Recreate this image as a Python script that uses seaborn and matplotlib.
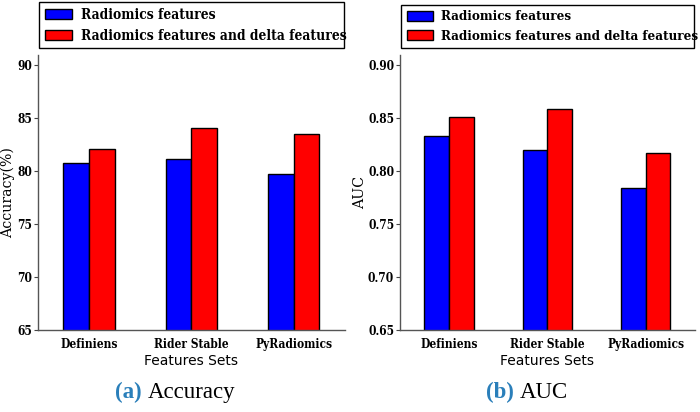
import matplotlib
matplotlib.use("Agg")
import matplotlib.pyplot as plt
from matplotlib import font_manager as fm
import seaborn as sns
import pandas as pd

categories = ["Definiens", "Rider Stable", "PyRadiomics"]
series_names = ["Radiomics features", "Radiomics features and delta features"]
acc_base = [80.7, 81.1, 79.7]
acc_delta = [82.1, 84.0, 83.5]
auc_base = [0.833, 0.820, 0.784]
auc_delta = [0.851, 0.858, 0.817]
acc_ticks = [65, 70, 75, 80, 85, 90]
auc_ticks = [0.65, 0.70, 0.75, 0.80, 0.85, 0.90]

sns.set_theme(style="white")
plt.rcParams["font.family"] = ["DejaVu Sans"]
plt.rcParams["text.color"] = "black"
plt.rcParams["axes.labelcolor"] = "black"
plt.rcParams["xtick.color"] = "black"
plt.rcParams["ytick.color"] = "black"

def make_df(base, delta):
    return pd.DataFrame({
        "cat": categories * 2,
        "series": [series_names[0]] * 3 + [series_names[1]] * 3,
        "val": list(base) + list(delta),
    })

fig = plt.figure(figsize=(7, 4.12), dpi=100)
ax1 = fig.add_axes([0.054, 0.199, 0.439, 0.667])
ax2 = fig.add_axes([0.571, 0.199, 0.422, 0.667])

palette = {series_names[0]: "#0000ff", series_names[1]: "#ff0000"}

tickfont = fm.FontProperties(family="DejaVu Serif", weight="bold", stretch="condensed", size=8.6)

panels = [
    (ax1, make_df(acc_base, acc_delta), acc_ticks, (65, 90.9), "Accuracy(%)", "(a)", "Accuracy", "{:.0f}", -0.074, 0.211, 9.9),
    (ax2, make_df(auc_base, auc_delta), auc_ticks, (0.65, 0.909), "AUC", "(b)", "AUC", "{:.2f}", -0.112, 0.742, 9.6),
]

for ax, df, ticks, ylim, ylab, tag, cap, fmt, ylx, capx, lsize in panels:
    sns.barplot(data=df, x="cat", y="val", hue="series", palette=palette,
                width=0.5, edgecolor="black", linewidth=1.0, saturation=1,
                ax=ax, legend=True)
    ax.set_ylim(*ylim)
    ax.set_xlim(-0.5, 2.5)
    ax.set_yticks(ticks)
    ax.set_yticklabels([fmt.format(t) for t in ticks], fontproperties=tickfont)
    ax.set_xticks(range(len(categories)))
    ax.set_xticklabels(categories, fontproperties=tickfont)
    ax.tick_params(axis="x", length=0, pad=6)
    ax.tick_params(axis="y", length=3, width=0.8, color="#444444", direction="out", left=True, pad=1)
    for s in ["top", "right"]:
        ax.spines[s].set_visible(False)
    for s in ["left", "bottom"]:
        ax.spines[s].set_color("#555555")
        ax.spines[s].set_linewidth(1.0)
    ax.set_xlabel("Features Sets", fontsize=10, fontfamily="DejaVu Sans", labelpad=2)
    ax.set_ylabel(ylab, fontsize=10.2, fontfamily="DejaVu Serif")
    ax.yaxis.set_label_coords(ylx, 0.5)
    legfont = fm.FontProperties(family="DejaVu Serif", weight="bold", stretch="condensed", size=lsize)
    ax.legend(loc="lower left", bbox_to_anchor=(0.005, 1.025, 0.99, 0.2), mode="expand",
              prop=legfont,
              frameon=True, fancybox=False, edgecolor="black", framealpha=1,
              borderaxespad=0, handlelength=2.0, handleheight=0.8, labelspacing=0.5,
              borderpad=0.4, handletextpad=0.6)
    ax.get_legend().get_frame().set_linewidth(1.0)
    fig.text(capx, 0.048, tag + " ", ha="right", va="center", fontsize=16.5,
             fontfamily="Liberation Serif", fontweight="bold", color="#2a7fba")
    fig.text(capx, 0.048, cap, ha="left", va="center", fontsize=16.5,
             fontfamily="Liberation Serif", color="black")

fig.savefig("out.png", dpi=100)
